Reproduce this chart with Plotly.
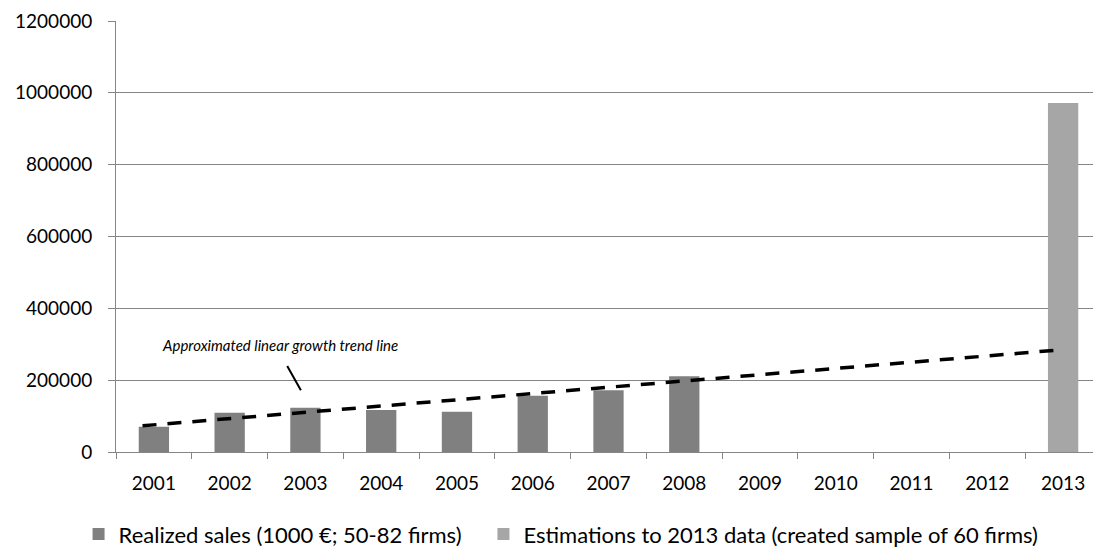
import plotly.graph_objects as go

realized_years = [2001, 2002, 2003, 2004, 2005, 2006, 2007, 2008]
realized_sales = [70300, 109000, 123000, 116700, 112000, 156400, 172200, 211000]
estimate_years = [2013]
estimate_sales = [972000]
trend_years = [2000.85, 2013]
trend_values = [73000, 285000]
all_years = list(range(2001, 2014))
y_ticks = [0, 200000, 400000, 600000, 800000, 1000000, 1200000]

FONT = "Lato"
AX = "#868686"
PAD = "\u00a0\u00a0\u00a0"

fig = go.Figure()
fig.add_trace(go.Bar(x=realized_years, y=realized_sales, width=0.4,
                     marker=dict(color="#808080", line=dict(width=0)),
                     name="Realized sales (1000 €; 50-82 firms)" + PAD))
fig.add_trace(go.Bar(x=estimate_years, y=estimate_sales, width=0.4,
                     marker=dict(color="#a6a6a6", line=dict(width=0)),
                     name="Estimations to 2013 data (created sample of 60 firms)"))
fig.add_trace(go.Scatter(x=trend_years, y=trend_values, mode="lines",
                         line=dict(color="black", width=3.5, dash="14px,11px"),
                         showlegend=False, hoverinfo="skip"))

fig.add_annotation(x=2002.66, y=297000, xref="x", yref="y",
                   text="<i>Approximated linear growth trend line</i>",
                   showarrow=False, font=dict(family=FONT, size=15, color="black"))
fig.add_shape(type="line", xref="x", yref="y", x0=2002.76, y0=239700, x1=2002.94, y1=172200,
              line=dict(color="black", width=2))

fig.update_layout(
    width=1093, height=539,
    margin=dict(l=108, r=0, t=13, b=95, autoexpand=False),
    paper_bgcolor="white", plot_bgcolor="white",
    font=dict(family=FONT, size=19, color="black"),
    barmode="overlay",
    showlegend=True,
    legend=dict(orientation="h", x=-0.038, xanchor="left", y=-0.142, yanchor="top",
                font=dict(family=FONT, size=22, color="black"),
                itemwidth=30, tracegroupgap=0),
    xaxis=dict(range=[2000.5, 2013.5], tickmode="array", tickvals=all_years,
               ticktext=[str(y) for y in all_years], ticks="", showgrid=False,
               showline=True, linecolor=AX, linewidth=1, zeroline=False,
               ticklabelstandoff=14,
               minor=dict(tickmode="array", tickvals=[y + 0.5 for y in range(2000, 2014)],
                          ticks="outside", ticklen=6, tickcolor=AX, tickwidth=1, showgrid=False)),
    yaxis=dict(range=[0, 1200000], tickmode="array", tickvals=y_ticks,
               ticktext=[str(v) for v in y_ticks],
               ticks="outside", ticklen=7, tickcolor=AX, tickwidth=1,
               showgrid=True, gridcolor=AX, gridwidth=1,
               showline=True, linecolor=AX, linewidth=1, zeroline=False,
               ticklabelstandoff=12),
)

fig.write_html("out.html")
